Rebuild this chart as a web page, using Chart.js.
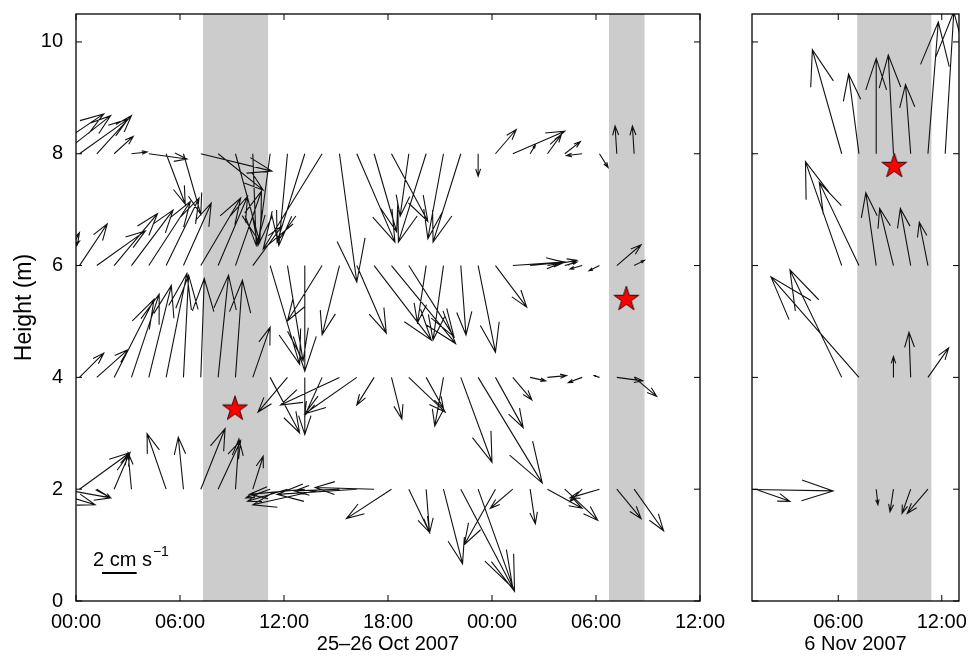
<!DOCTYPE html>
<html>
<head>
<meta charset="utf-8">
<script src="https://cdn.jsdelivr.net/npm/chart.js@4.4.0/dist/chart.umd.min.js"></script>
<style>
  html, body { margin: 0; padding: 0; background: #fff; }
  #wrap { position: relative; width: 973px; height: 660px; overflow: hidden; }
  canvas { position: absolute; top: 0; }
  #cLeft { left: 0; }
  #cRight { left: 730px; }
</style>
</head>
<body>
<div id="wrap">
  <canvas id="cLeft" width="740" height="660" style="width:740px;height:660px"></canvas>
  <canvas id="cRight" width="243" height="660" style="width:243px;height:660px"></canvas>
</div>
<script>
// ---------------- data ----------------
// arrows: [hour, u (cm/s), v (cm/s)], one list per height level (m)
// 25-26 Oct 2007, hours from 00:00 on the 25th
const oct_z2 = [
  [-1.8, 2.9, -0.9], [-0.8, 2.8, -0.5], [0.2, 2.9, 2.1], [1.2, 0.8, -0.5], [2.2, 0.9, 2.1], [3.2, -0.2, 2.1],
  [5.2, -1.1, 3.2], [6.2, -0.3, 3.0], [7.2, 1.4, 3.5], [8.2, 1.3, 2.8], [9.2, 0.2, 2.9], [10.2, 0.6, 1.9],
  [11.2, -1.4, -0.5], [12.2, -2.3, -0.7], [13.2, -3.2, -0.3], [14.2, -4.0, -0.9], [15.2, -2.6, -0.1],
  [16.2, -4.6, -0.3], [17.2, -3.4, 0.1], [18.2, -2.6, -1.7], [19.2, 1.2, -2.5], [20.2, 0.2, -2.5],
  [21.2, 1.1, -4.3], [22.2, 3.0, -5.7], [23.2, 2.1, -5.9], [24.2, -1.8, -3.2], [25.2, -1.3, -1.1],
  [26.2, 0.3, -2.0], [27.2, 2.0, -1.1], [28.2, 1.9, -1.8], [29.2, -0.7, -0.7], [30.2, -1.7, -0.5],
  [31.2, 1.4, -1.7], [32.2, 1.7, -2.4]
];
const oct_z4 = [
  [0.2, 1.4, 1.4], [1.2, 1.8, 1.6], [2.2, 2.3, 4.5], [3.2, 1.6, 4.8], [4.2, 1.3, 5.3], [5.2, 1.2, 6.0],
  [6.2, 0.3, 5.9], [7.2, 0.2, 5.7], [8.2, 0.6, 5.9], [9.2, 0.4, 5.6], [10.2, 1.0, 2.9], [11.2, 1.7, -3.2],
  [12.2, -1.7, -2.0], [13.2, 0.0, -3.3], [14.2, -1.0, -2.2], [15.2, -3.4, -1.6], [16.2, -3.0, -2.1],
  [17.2, -1.0, -1.6], [18.2, 0.6, -2.4], [19.2, 2.1, -2.0], [20.2, 1.0, -1.8], [21.2, -0.5, -2.8],
  [22.2, 1.8, -4.9], [23.2, 3.7, -6.1], [24.2, 1.6, -2.9], [25.2, 1.1, -1.3], [26.2, 0.9, -0.2],
  [27.2, 1.1, 0.1], [29.2, -0.8, -0.3], [30.2, -0.3, 0.1], [31.2, 1.5, -0.2], [32.2, 1.3, -1.1]
];
const oct_z6 = [
  [-1.8, 2.0, 1.4], [-0.8, 1.0, 1.9], [0.2, 1.6, 2.4], [1.2, 2.8, 2.0], [2.2, 2.5, 3.0], [3.2, 2.4, 3.2],
  [4.2, 2.4, 3.7], [5.2, 1.9, 3.9], [6.2, 1.6, 3.6], [7.2, 2.3, 3.9], [8.2, 1.7, 4.0], [9.2, 1.5, 4.3],
  [10.2, 1.7, 2.3], [11.2, 1.7, -5.7], [12.2, 0.9, -5.5], [13.2, 0.0, -6.1], [14.2, -2.0, -3.2],
  [15.2, -1.0, -4.0], [16.2, 1.7, -3.9], [17.2, 3.3, -4.3], [18.2, 3.7, -4.5], [19.2, 2.6, -4.1],
  [20.2, -0.5, -3.3], [21.2, -0.6, -4.3], [22.2, 0.3, -4.0], [23.2, 1.0, -5.0], [24.2, 1.8, -2.4],
  [25.2, 2.9, 0.2], [26.2, 2.0, 0.2], [27.2, 1.7, 0.3], [28.2, 0.7, 0.2], [29.2, -0.7, -0.2],
  [30.2, -0.6, -0.3], [31.2, 1.4, 1.2], [32.2, 0.6, 0.3]
];
const oct_z8 = [
  [-1.8, 3.4, 2.3], [-0.8, 2.8, 2.2], [0.2, 2.8, 2.0], [1.2, 2.0, 2.2], [2.2, 1.1, 1.0], [3.2, 0.9, 0.1],
  [4.2, 2.2, -0.3], [5.2, 1.1, -2.9], [6.2, 1.0, -3.5], [7.2, 4.1, -1.0], [8.2, 2.6, -2.1], [9.2, 1.4, -5.1],
  [10.2, 0.2, -5.3], [11.2, -0.7, -5.3], [12.2, -0.5, -5.3], [13.2, -1.6, -5.1], [14.2, -3.4, -5.5],
  [15.2, 1.0, -7.4], [16.2, 2.2, -5.1], [17.2, 1.3, -4.5], [18.2, 2.1, -3.9], [19.2, -0.5, -3.6],
  [20.2, -1.6, -5.1], [21.2, -0.9, -4.9], [22.2, -1.6, -5.1], [23.2, 0.0, -1.3], [24.2, 1.2, 1.4],
  [25.2, 3.0, 1.3], [26.2, 0.3, 0.5], [27.2, 0.8, 1.1], [28.2, 0.9, 0.7], [29.2, -0.9, -0.1],
  [30.2, 0.5, -0.8], [31.2, -0.1, 1.6], [32.2, -0.1, 1.6]
];
// 6 Nov 2007, hours from 00:00
const nov_z2 = [[0.2, 5.5, -0.1], [1.2, 2.0, -0.7], [8.2, 0.1, -0.9], [9.2, -0.2, -1.3], [10.2, -0.5, -1.4], [11.2, -1.2, -1.4]];
const nov_z4 = [[6.2, -3.0, 6.2], [7.2, -5.1, 5.8], [9.2, 0.0, 1.2], [10.2, -0.1, 2.6], [11.2, 1.2, 1.7]];
const nov_z6 = [[6.2, -2.1, 6.0], [7.2, -2.3, 4.8], [8.2, -0.6, 4.2], [9.2, -0.8, 3.3], [10.2, -0.6, 3.3], [11.2, -0.5, 2.5]];
const nov_z8 = [[6.2, -1.7, 6.0], [7.2, -0.6, 4.6], [8.2, 0.0, 5.5], [9.2, -0.3, 5.7], [10.2, -0.3, 4.0], [11.2, 0.6, 7.6], [12.2, 0.5, 8.2]];

// shaded periods (hours)
const octBands = [[7.33, 11.08], [30.75, 32.8]];
const novBands = [[7.1, 11.4]];

// red stars (hour, height m)
const octStarX = [9.17, 31.75];
const octStarY = [3.46, 5.42];
const novStarX = [9.25];
const novStarY = [7.8];

// axes
const octTicks = [0, 6, 12, 18, 24, 30, 36];
const octTickLabels = ['00:00', '06:00', '12:00', '18:00', '00:00', '06:00', '12:00'];
const novTicks = [6, 12];
const novTickLabels = ['06:00', '12:00'];
const yTicks = [0, 2, 4, 6, 8, 10];

// quiver scale: axis units per 1 cm/s
const QX = 1.0;   // hours
const QY = 0.31;  // metres
const scaleBarSpeed = 2; // cm/s

// ---------------- drawing ----------------
const FONT = "'Liberation Sans', Arial, Helvetica, sans-serif";

function makeStar(r) {
  const c = document.createElement('canvas');
  const s = Math.ceil(2 * r + 4);
  c.width = s; c.height = s;
  const g = c.getContext('2d');
  const cx = s / 2, cy = s / 2 + r * 0.1;
  g.beginPath();
  for (let i = 0; i < 10; i++) {
    const ang = -Math.PI / 2 + i * Math.PI / 5;
    const rr = i % 2 ? r * 0.382 : r;
    g.lineTo(cx + rr * Math.cos(ang), cy + rr * Math.sin(ang));
  }
  g.closePath();
  g.fillStyle = '#ff0000';
  g.fill();
  g.strokeStyle = '#3a0000';
  g.lineWidth = 1;
  g.stroke();
  return c;
}
const starImg = makeStar(13);

function arrow(ctx, x0, y0, x1, y1) {
  const dx = x1 - x0, dy = y1 - y0, a = 0.33, b = 0.33;
  ctx.moveTo(x0, y0); ctx.lineTo(x1, y1);
  ctx.moveTo(x1 - a * (dx + b * dy), y1 - a * (dy - b * dx));
  ctx.lineTo(x1, y1);
  ctx.lineTo(x1 - a * (dx - b * dy), y1 - a * (dy + b * dx));
}

const quiverPlugin = {
  id: 'quiver',
  beforeDatasetsDraw(chart, args, opts) {
    const { ctx, chartArea: a, scales: { x, y } } = chart;
    ctx.save();
    ctx.beginPath();
    ctx.rect(a.left, a.top, a.right - a.left, a.bottom - a.top);
    ctx.clip();
    ctx.fillStyle = '#cccccc';
    opts.bands.forEach(([b0, b1]) => {
      const p0 = x.getPixelForValue(b0), p1 = x.getPixelForValue(b1);
      ctx.fillRect(p0, a.top, p1 - p0, a.bottom - a.top);
    });
    ctx.strokeStyle = '#111';
    ctx.lineWidth = 1.1;
    ctx.beginPath();
    opts.series.forEach(s => s.data.forEach(([t, u, v]) => {
      arrow(ctx, x.getPixelForValue(t), y.getPixelForValue(s.level),
        x.getPixelForValue(t + u * QX), y.getPixelForValue(s.level + v * QY));
    }));
    ctx.stroke();
    ctx.restore();
  },
  afterDraw(chart, args, opts) {
    const { ctx, chartArea: a, scales: { x, y } } = chart;
    ctx.save();
    ctx.strokeStyle = '#000';
    ctx.lineWidth = 1.3;
    ctx.strokeRect(a.left, a.top, a.right - a.left, a.bottom - a.top);
    ctx.beginPath();
    const tl = 6;
    x.ticks.forEach(t => {
      const px = x.getPixelForValue(t.value);
      ctx.moveTo(px, a.bottom); ctx.lineTo(px, a.bottom - tl);
      ctx.moveTo(px, a.top); ctx.lineTo(px, a.top + tl);
    });
    y.ticks.forEach(t => {
      const py = y.getPixelForValue(t.value);
      ctx.moveTo(a.left, py); ctx.lineTo(a.left + tl, py);
      ctx.moveTo(a.right, py); ctx.lineTo(a.right - tl, py);
    });
    ctx.lineWidth = 1;
    ctx.stroke();
    if (opts.scaleBar) {
      const sb = opts.scaleBar;
      const x0 = x.getPixelForValue(sb.t), x1 = x.getPixelForValue(sb.t + scaleBarSpeed * QX);
      const yb = y.getPixelForValue(sb.h);
      ctx.lineWidth = 2;
      ctx.beginPath(); ctx.moveTo(x0, yb); ctx.lineTo(x1, yb); ctx.stroke();
      ctx.fillStyle = '#000';
      ctx.textBaseline = 'alphabetic';
      ctx.textAlign = 'left';
      ctx.font = '20px ' + FONT;
      const txt = scaleBarSpeed + ' cm s';
      ctx.fillText(txt, x0 - 9, yb - 7);
      const w = ctx.measureText(txt).width;
      ctx.font = '14px ' + FONT;
      ctx.fillText('\u22121', x0 - 9 + w + 1, yb - 17);
    }
    ctx.restore();
  }
};

function buildChart(id, cfg) {
  return new Chart(document.getElementById(id), {
    type: 'scatter',
    data: {
      datasets: [{
        data: cfg.starX.map((v, i) => ({ x: v, y: cfg.starY[i] })),
        pointStyle: starImg,
        pointRadius: 13,
        pointHoverRadius: 13
      }]
    },
    options: {
      responsive: false,
      animation: false,
      events: [],
      layout: { padding: cfg.padding },
      plugins: {
        legend: { display: false },
        tooltip: { enabled: false },
        quiver: { bands: cfg.bands, series: cfg.series, scaleBar: cfg.scaleBar }
      },
      scales: {
        x: {
          type: 'linear', min: cfg.xMin, max: cfg.xMax,
          afterBuildTicks: s => { s.ticks = cfg.xTicks.map(v => ({ value: v })); },
          ticks: {
            autoSkip: false, maxRotation: 0, padding: 9, color: '#000',
            font: { family: FONT, size: 20 },
            callback: (v, i) => cfg.xLabels[i]
          },
          grid: { display: false, drawTicks: false },
          border: { display: false },
          title: { display: true, text: cfg.xTitle, color: '#000', font: { family: FONT, size: 20 }, padding: { top: 0, bottom: 4 } },
          afterFit: s => { s.height = 59; s.paddingLeft = 0; s.paddingRight = 0; }
        },
        y: {
          type: 'linear', min: 0, max: 10.5,
          afterBuildTicks: s => { s.ticks = yTicks.map(v => ({ value: v })); },
          ticks: {
            display: cfg.yLabels, padding: 13, color: '#000',
            font: { family: FONT, size: 20 }
          },
          grid: { display: false, drawTicks: false },
          border: { display: false },
          title: { display: cfg.yLabels, text: 'Height (m)', color: '#000', font: { family: FONT, size: 23 }, padding: { top: 11, bottom: 0 } },
          afterFit: s => { s.width = cfg.yWidth; s.paddingTop = 0; s.paddingBottom = 0; }
        }
      }
    },
    plugins: [quiverPlugin]
  });
}

buildChart('cLeft', {
  padding: { left: 0, top: 10, right: 40, bottom: 0 },
  yWidth: 76, yLabels: true,
  xMin: 0, xMax: 36, xTicks: octTicks, xLabels: octTickLabels,
  xTitle: '25\u201326 Oct 2007',
  bands: octBands,
  starX: octStarX, starY: octStarY,
  scaleBar: { t: 1.5, h: 0.5 },
  series: [
    { level: 2, data: oct_z2 }, { level: 4, data: oct_z4 },
    { level: 6, data: oct_z6 }, { level: 8, data: oct_z8 }
  ]
});

buildChart('cRight', {
  padding: { left: 0, top: 10, right: 13, bottom: 0 },
  yWidth: 22, yLabels: false,
  xMin: 1, xMax: 13, xTicks: novTicks, xLabels: novTickLabels,
  xTitle: '6 Nov 2007',
  bands: novBands,
  starX: novStarX, starY: novStarY,
  scaleBar: null,
  series: [
    { level: 2, data: nov_z2 }, { level: 4, data: nov_z4 },
    { level: 6, data: nov_z6 }, { level: 8, data: nov_z8 }
  ]
});
</script>
</body>
</html>
